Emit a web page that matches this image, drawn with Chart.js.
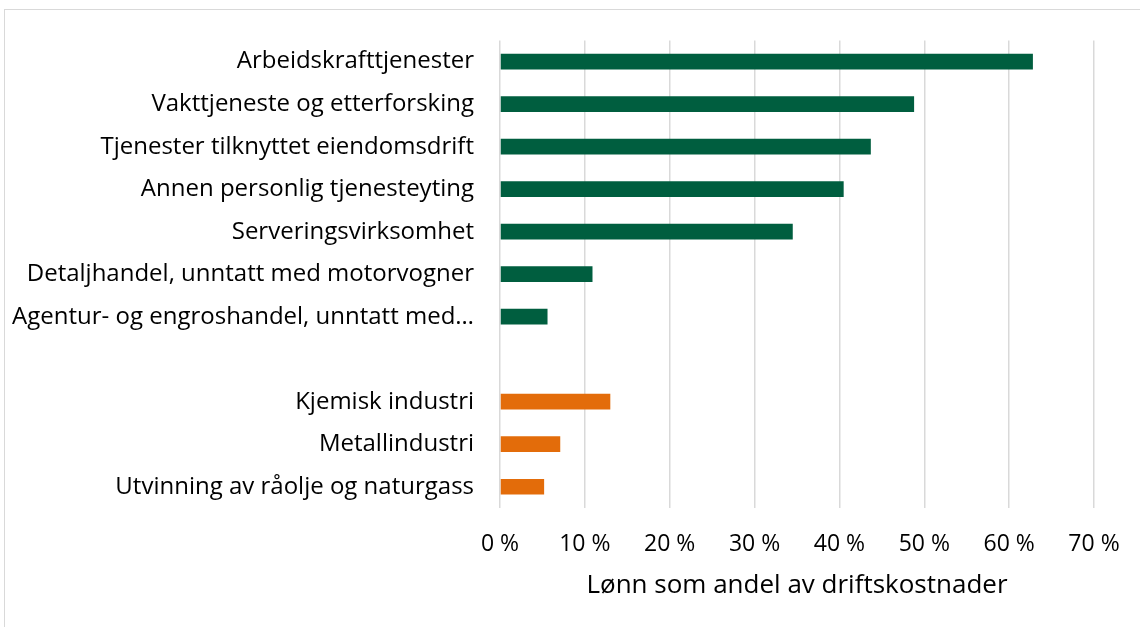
<!DOCTYPE html>
<html>
<head>
<meta charset="utf-8">
<script src="https://cdn.jsdelivr.net/npm/chart.js@4/dist/chart.umd.min.js"></script>
<style>
  html, body { margin: 0; padding: 0; background: #fff; }
  #wrap { position: relative; width: 1140px; height: 627px; overflow: hidden; }
  #frame { position: absolute; left: 4px; top: 9px; width: 1160px; height: 640px; border: 1px solid #d9d9d9; box-sizing: border-box; }
  canvas { position: absolute; left: 0; top: 0; }
</style>
</head>
<body>
<div id="wrap">
  <div id="frame"></div>
  <canvas id="myChart" width="1140" height="627"></canvas>
</div>
<script>
// Tjenesteytende næringer
var serviceLabels = [
    'Arbeidskrafttjenester',
    'Vakttjeneste og etterforsking',
    'Tjenester tilknyttet eiendomsdrift',
    'Annen personlig tjenesteyting',
    'Serveringsvirksomhet',
    'Detaljhandel, unntatt med motorvogner',
    'Agentur- og engroshandel, unntatt med…'
];
var serviceValues = [62.8, 48.8, 43.7, 40.5, 34.5, 10.9, 5.6];

// Industri
var industryLabels = [
    'Kjemisk industri',
    'Metallindustri',
    'Utvinning av råolje og naturgass'
];
var industryValues = [13.0, 7.1, 5.2];

var xTicks = [0, 10, 20, 30, 40, 50, 60, 70];

var green = '#005e3f';
var orange = '#e36c0a';

// empty row between the two groups
var labels = serviceLabels.concat([''], industryLabels);
var values = serviceValues.concat([null], industryValues);
var colors = serviceValues.map(() => green).concat([green], industryValues.map(() => orange));

var ctx = document.getElementById('myChart').getContext('2d');
var chart = new Chart(ctx, {
    type: 'bar',
    data: {
        labels: labels,
        datasets: [{
            data: values,
            backgroundColor: colors,
            barPercentage: 0.37,
            categoryPercentage: 1
        }]
    },
    options: {
        indexAxis: 'y',
        responsive: false,
        animation: false,
        layout: { padding: { top: 38, right: 46, bottom: 10, left: 10 } },
        plugins: {
            legend: { display: false },
            tooltip: { enabled: false }
        },
        scales: {
            x: {
                min: xTicks[0],
                max: xTicks[xTicks.length - 1],
                afterBuildTicks: function (scale) {
                    scale.ticks = xTicks.map(v => ({ value: v }));
                },
                afterFit: function (scale) {
                    scale.height = 109;
                    scale.paddingLeft = 0;
                    scale.paddingRight = 0;
                },
                border: { display: false },
                grid: { color: '#d9d9d9', lineWidth: 1.5, drawTicks: false },
                ticks: {
                    padding: 23,
                    color: '#000',
                    font: { family: 'Open Sans', size: 23 },
                    callback: v => v + ' %'
                },
                title: {
                    display: true,
                    text: 'Lønn som andel av driftskostnader',
                    color: '#000',
                    font: { family: 'Open Sans', size: 26 },
                    padding: { top: 0, bottom: 16 }
                }
            },
            y: {
                afterFit: function (scale) { scale.width = 490; },
                border: { display: false },
                grid: { display: false, drawTicks: false },
                ticks: {
                    padding: 26,
                    color: '#000',
                    font: { family: 'Open Sans', size: 24 }
                }
            }
        }
    }
});
</script>
</body>
</html>
